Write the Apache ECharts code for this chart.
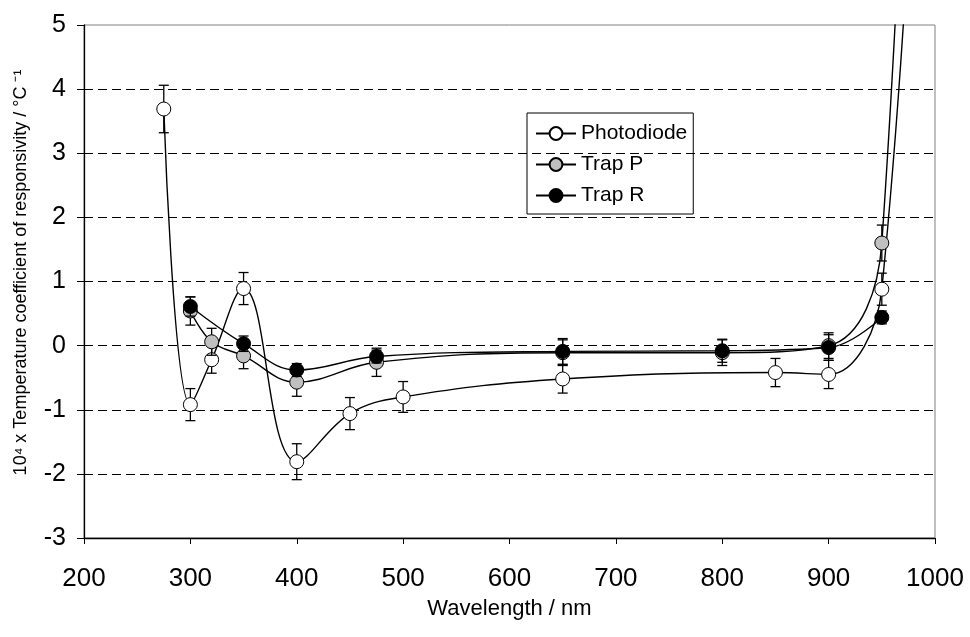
<!DOCTYPE html>
<html><head><meta charset="utf-8">
<script src="https://cdn.jsdelivr.net/npm/echarts@6/dist/echarts.min.js"></script>
<style>html,body{margin:0;padding:0;background:#fff}#c{width:970px;height:637px}</style>
</head><body><div id="c"></div>
<script>
// Photodiode
const pdWavelength = [275, 300, 320, 350, 400, 450, 500, 650, 850, 900, 950, 1000];
const pdValue      = [3.69, -0.92, -0.22, 0.89, -1.81, -1.06, -0.80, -0.52, -0.42, -0.45, 0.88, 16];
const pdError      = [0.37, 0.25, 0.21, 0.25, 0.28, 0.25, 0.24, 0.22, 0.22, 0.22, 0.25, null];
// Trap P
const tpWavelength = [300, 320, 350, 400, 475, 650, 800, 900, 950, 1000];
const tpValue      = [0.54, 0.06, -0.16, -0.57, -0.26, -0.11, -0.11, 0.0, 1.6, 24];
const tpError      = [0.22, 0.21, 0.2, 0.22, 0.22, 0.2, 0.2, 0.2, 0.28, null];
// Trap R
const trWavelength = [300, 350, 400, 475, 650, 800, 900, 950];
const trValue      = [0.61, 0.03, -0.38, -0.17, -0.09, -0.08, -0.03, 0.44];
const trError      = [0.15, 0.12, 0.1, 0.1, 0.2, 0.18, 0.2, 0.1];

const seriesNames = ['Photodiode', 'Trap P', 'Trap R'];
const fills = ['#ffffff', '#c0c0c0', '#000000'];
const xTitle = 'Wavelength / nm';
const yTitle = '10\u2074 x Temperature coefficient of responsivity / \u00b0C \u207b\u00b9';

const sets = [
  [pdWavelength, pdValue, pdError],
  [tpWavelength, tpValue, tpError],
  [trWavelength, trValue, trError]
];

function errRender(params, api) {
  const x = api.value(0), y = api.value(1), e = api.value(2);
  const top = api.coord([x, y + e]);
  const bot = api.coord([x, y - e]);
  const hw = 5;
  const st = { stroke: '#000', lineWidth: 1.3 };
  return {
    type: 'group',
    children: [
      { type: 'line', shape: { x1: top[0], y1: top[1], x2: bot[0], y2: bot[1] }, style: st },
      { type: 'line', shape: { x1: top[0] - hw, y1: top[1], x2: top[0] + hw, y2: top[1] }, style: st },
      { type: 'line', shape: { x1: bot[0] - hw, y1: bot[1], x2: bot[0] + hw, y2: bot[1] }, style: st }
    ]
  };
}

const series = [];
sets.forEach((s, i) => {
  const [wl, v, er] = s;
  series.push({
    name: 'err' + i,
    type: 'custom',
    renderItem: errRender,
    clip: true,
    z: 2 + i * 2,
    data: wl.map((w, k) => [w, v[k], er[k]]).filter(d => d[2] != null)
  });
  series.push({
    name: seriesNames[i],
    type: 'line',
    smooth: 0.4,
    clip: true,
    z: 3 + i * 2,
    symbol: 'circle',
    symbolSize: 14,
    showAllSymbol: true,
    lineStyle: { color: '#000', width: 1.4 },
    itemStyle: { color: fills[i], borderColor: '#000', borderWidth: 1 },
    emphasis: { disabled: true },
    data: wl.map((w, k) => [w, v[k]])
  });
});

const chart = echarts.init(document.getElementById('c'), null, { renderer: 'canvas' });
chart.setOption({
  animation: false,
  textStyle: { fontFamily: 'Liberation Sans, Arial, sans-serif' },
  grid: { left: 84, right: 35, top: 25, bottom: 99, show: true, borderColor: '#808080', borderWidth: 1, backgroundColor: 'transparent' },
  legend: {
    data: seriesNames,
    orient: 'vertical',
    left: 527, top: 113,
    itemWidth: 40, itemHeight: 16, itemGap: 10,
    padding: [10, 6, 8, 8],
    borderColor: '#000', borderWidth: 1,
    textStyle: { fontSize: 21, color: '#000', fontFamily: 'Liberation Sans, Arial, sans-serif' }
  },
  xAxis: {
    type: 'value', min: 200, max: 1000, interval: 100,
    name: xTitle, nameLocation: 'middle', nameGap: 60,
    nameTextStyle: { fontSize: 22, color: '#000' },
    axisLine: { show: true, onZero: false, lineStyle: { color: '#000', width: 1.3 } },
    axisTick: { show: true, length: 6, lineStyle: { color: '#000' } },
    axisLabel: { fontSize: 26, color: '#000', margin: 28, formatter: v => String(v) },
    splitLine: { show: false }
  },
  yAxis: {
    type: 'value', min: -3, max: 5, interval: 1,
    name: yTitle, nameLocation: 'middle', nameGap: 54, nameRotate: 90,
    nameTextStyle: { fontSize: 18, color: '#000', padding: [0, 0, 0, 18] },
    axisLine: { show: true, onZero: false, lineStyle: { color: '#000', width: 1.3 } },
    axisTick: { show: true, length: 7, lineStyle: { color: '#000' } },
    axisLabel: { fontSize: 25, color: '#000', margin: 18, formatter: v => String(v) },
    splitLine: { show: true, showMinLine: false, showMaxLine: false, lineStyle: { color: '#000', type: [9, 5], width: 1 } }
  },
  series: series
});
</script>
</body></html>
